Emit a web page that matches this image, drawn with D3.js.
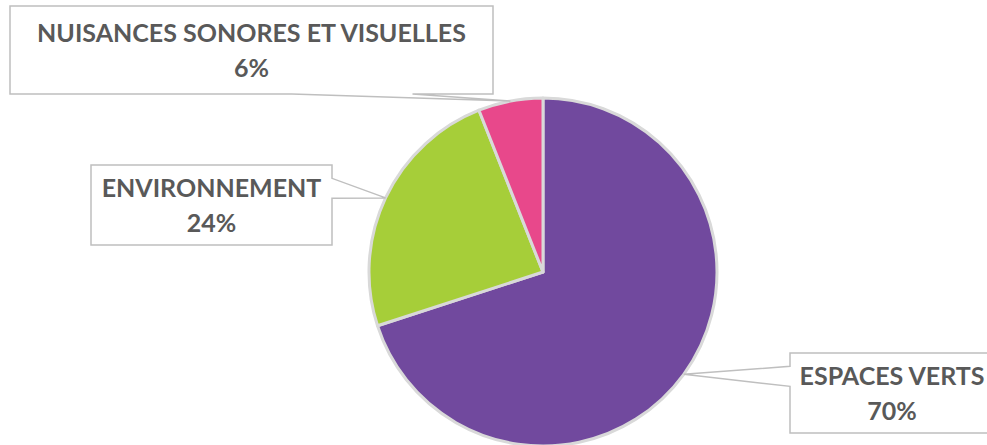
<!DOCTYPE html>
<html>
<head>
<meta charset="utf-8">
<script src="https://cdn.jsdelivr.net/npm/d3@7"></script>
<style>
  html, body { margin: 0; padding: 0; background: #fff; }
  svg { display: block; }
</style>
</head>
<body>
<div class="pie_chart"></div>
<script>
(function() {

	var width = 987
	var height = 445

	// data
	var categories = ["ESPACES VERTS", "ENVIRONNEMENT", "NUISANCES SONORES ET VISUELLES"]
	var shares = [70, 24, 6]
	var colors = ["#71499E", "#A6CE39", "#E8488B"]

	// label boxes (layout only)
	var boxes = [
		{x: 790, y: 353, w: 204, h: 80},
		{x: 91,  y: 165, w: 241, h: 80},
		{x: 10,  y: 6,   w: 483, h: 88}
	]

	var cx = 543, cy = 272, radius = 174

	var svg = d3.select('.pie_chart')
		.append('svg')
		.attr("width", width)
		.attr("height", height)

	var pie = d3.pie()
		.sort(null)
		.value(function(d) { return d; })

	var arcs = pie(shares)

	var arc = d3.arc()
		.innerRadius(0)
		.outerRadius(radius)

	var edge = d3.arc()
		.innerRadius(radius)
		.outerRadius(radius)

	var g = svg.append("g")
		.attr("transform", "translate(" + cx + "," + cy + ")")

	g.selectAll("path")
		.data(arcs)
		.enter()
		.append("path")
		.attr("d", arc)
		.attr("fill", function(d, i) { return colors[i]; })
		.attr("stroke", "#D9D9D9")
		.attr("stroke-width", 3)
		.attr("stroke-linejoin", "round")

	// rectangle callout like the office one: wedge base on 2/12-5/12 or 7/12-10/12 of a side
	var callout = function(b, tx, ty) {
		var x0 = b.x, y0 = b.y, x1 = b.x + b.w, y1 = b.y + b.h
		var mx = b.x + b.w / 2, my = b.y + b.h / 2
		var dx = (tx - mx) / b.w, dy = (ty - my) / b.h
		var p = []
		if (Math.abs(dx) > Math.abs(dy)) {
			var a = dy < 0 ? [2, 5] : [7, 10]
			var ya = y0 + b.h * a[0] / 12, yb = y0 + b.h * a[1] / 12
			if (dx > 0) {
				p = [[x0, y0], [x1, y0], [x1, ya], [tx, ty], [x1, yb], [x1, y1], [x0, y1]]
			} else {
				p = [[x0, y0], [x1, y0], [x1, y1], [x0, y1], [x0, yb], [tx, ty], [x0, ya]]
			}
		} else {
			var c = dx < 0 ? [2, 5] : [7, 10]
			var xa = x0 + b.w * c[0] / 12, xb = x0 + b.w * c[1] / 12
			if (dy > 0) {
				p = [[x0, y0], [x1, y0], [x1, y1], [xb, y1], [tx, ty], [xa, y1], [x0, y1]]
			} else {
				p = [[x0, y0], [xa, y0], [tx, ty], [xb, y0], [x1, y0], [x1, y1], [x0, y1]]
			}
		}
		return "M" + p.map(function(q) { return q.join(","); }).join("L") + "Z"
	}

	var labels = svg.selectAll("g.label")
		.data(arcs)
		.enter()
		.append("g")
		.attr("class", "label")

	labels.append("path")
		.attr("d", function(d, i) {
			var t = edge.centroid(d)
			return callout(boxes[i], cx + t[0], cy + t[1])
		})
		.attr("fill", "#fff")
		.attr("stroke", "#BFBFBF")
		.attr("stroke-width", 1.5)

	var texts = labels.append("text")
		.attr("text-anchor", "middle")
		.attr("font-family", "Lato, 'Open Sans', sans-serif")
		.attr("font-weight", "bold")
		.attr("font-size", "25px")
		.attr("fill", "#595959")

	texts.append("tspan")
		.attr("x", function(d, i) { return boxes[i].x + boxes[i].w / 2; })
		.attr("y", function(d, i) { return boxes[i].y + boxes[i].h / 2 - 8; })
		.text(function(d, i) { return categories[i]; })

	texts.append("tspan")
		.attr("x", function(d, i) { return boxes[i].x + boxes[i].w / 2; })
		.attr("y", function(d, i) { return boxes[i].y + boxes[i].h / 2 + 27; })
		.text(function(d, i) { return shares[i] + "%"; })

}())
</script>
</body>
</html>
